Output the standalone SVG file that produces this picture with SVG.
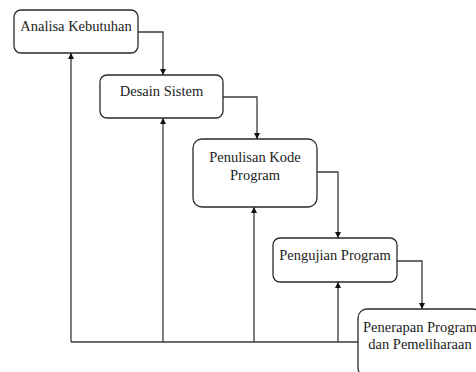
<svg xmlns="http://www.w3.org/2000/svg" width="476" height="372" viewBox="0 0 476 372">
<style>
.box{fill:#fff;stroke:#2a2a2a;stroke-width:1.3}
.t{font-family:'Liberation Serif','DejaVu Serif',serif;font-size:14.5px;fill:#222;text-anchor:middle}
.c{fill:none;stroke:#3a3a3a;stroke-width:1.3}
</style>
<defs>
<marker id="ah" viewBox="0 0 10 10" refX="10" refY="5" markerWidth="6" markerHeight="7" markerUnits="userSpaceOnUse" orient="auto">
<path d="M0,0 L10,5 L0,10 z" fill="#111"/>
</marker>
</defs>
<rect width="476" height="372" fill="#fff"/>
<g id="connectors">
<polyline class="c" points="138,32 163,32 163,75" marker-end="url(#ah)"/>
<polyline class="c" points="223,97 257,97 257,139" marker-end="url(#ah)"/>
<polyline class="c" points="317,172 338,172 338,238" marker-end="url(#ah)"/>
<polyline class="c" points="397,261 422,261 422,309" marker-end="url(#ah)"/>
<polyline class="c" points="358,342 71,342"/>
<line class="c" x1="71" y1="342" x2="71" y2="53" marker-end="url(#ah)"/>
<line class="c" x1="163" y1="342" x2="163" y2="118" marker-end="url(#ah)"/>
<line class="c" x1="254" y1="342" x2="254" y2="207" marker-end="url(#ah)"/>
<line class="c" x1="338" y1="342" x2="338" y2="282" marker-end="url(#ah)"/>
</g>
<g id="n1">
<rect class="box" x="14" y="10" width="124" height="43" rx="7"/>
<text class="t" font-family="Liberation Serif" x="76" y="31">Analisa Kebutuhan</text>
</g>
<g id="n2">
<rect class="box" x="100" y="75" width="123" height="43" rx="7"/>
<text class="t" font-family="Liberation Serif" x="161.5" y="96">Desain Sistem</text>
</g>
<g id="n3">
<rect class="box" x="193" y="139" width="124" height="68" rx="9"/>
<text class="t" font-family="Liberation Serif" x="255" y="161.5">Penulisan Kode</text>
<text class="t" font-family="Liberation Serif" x="255" y="180">Program</text>
</g>
<g id="n4">
<rect class="box" x="273" y="238" width="124" height="44" rx="7"/>
<text class="t" font-family="Liberation Serif" x="335" y="259.5">Pengujian Program</text>
</g>
<g id="n5">
<rect class="box" x="358" y="309" width="124" height="68" rx="9"/>
<text class="t" font-family="Liberation Serif" x="420" y="332">Penerapan Program</text>
<text class="t" font-family="Liberation Serif" x="420" y="349">dan Pemeliharaan</text>
</g>
</svg>
